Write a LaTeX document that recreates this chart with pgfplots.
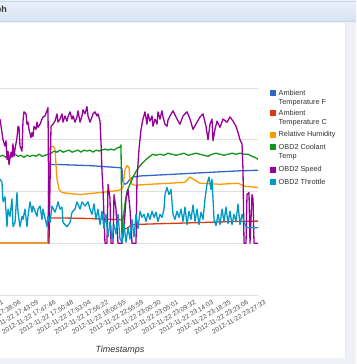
\documentclass[border=0pt]{standalone}
\usepackage{pgfplots}
\pgfplotsset{compat=1.18}
\usepackage{fontspec}
\setmainfont{Liberation Sans}
\definecolor{gblue}{HTML}{3366CC}
\definecolor{gred}{HTML}{DC3912}
\definecolor{gorange}{HTML}{FF9900}
\definecolor{ggreen}{HTML}{109618}
\definecolor{gpurple}{HTML}{990099}
\definecolor{gcyan}{HTML}{0099C6}
\definecolor{outerbg}{HTML}{EEF1F6}
\definecolor{hdtop}{HTML}{EAF1FA}
\definecolor{hdbot}{HTML}{D7E4F3}
\definecolor{hdline}{HTML}{C6D5E8}
\begin{document}
\begin{tikzpicture}
\path[use as bounding box] (0,0) rectangle (356pt,364pt);
\clip (0,0) rectangle (356pt,364pt);
\fill[outerbg] (0,0) rectangle (356pt,364pt);
\fill[white] (0,6pt) rectangle (345pt,341pt);
\draw[black!8] (345pt,6pt) -- (345pt,341pt);
\shade[top color=hdtop, bottom color=hdbot] (0,343pt) rectangle (356pt,363pt);
\draw[hdline] (0,363pt) -- (356pt,363pt);
\draw[hdline] (0,343pt) -- (356pt,343pt);
\node[anchor=east, font=\bfseries\fontsize{9}{10}\selectfont, text=black!80] at (10.5pt,354pt) {Graph};
\begin{axis}[
  at={(-20pt,69pt)}, anchor=south west,
  scale only axis, width=278pt, height=207pt,
  xmin=-20, xmax=258, ymin=-50, ymax=150,
  axis line style={draw=none},
  ytick={-50,50,100,150}, yticklabels={},
  ymajorgrids,
  major grid style={color=black!12, line width=0.8pt},
  extra y ticks={0}, extra y tick labels={},
  extra y tick style={grid style={color=black!42, line width=1.3pt}},
  major tick length=0pt,
  xtick={-4.5,13,30.5,48,65.5,83,100.5,118,135.5,153,170.5,188,205.5,223,240.5,258},
  xticklabels={2012-11-22 17:33:21,2012-11-22 17:38:06,2012-11-22 17:43:09,2012-11-22 17:47:46,2012-11-22 17:50:48,2012-11-22 17:53:04,2012-11-22 17:56:22,2012-11-22 18:00:55,2012-11-22 22:55:59,2012-11-22 23:00:30,2012-11-22 23:05:01,2012-11-22 23:09:32,2012-11-22 23:14:03,2012-11-22 23:18:35,2012-11-22 23:23:06,2012-11-22 23:27:33},
  xticklabel style={rotate=30, anchor=north east, font=\fontsize{6.6}{7}\selectfont, text=black!70, xshift=3pt, yshift=-7pt, inner sep=0pt},
  every axis plot/.append style={line width=1.3pt, line join=round, mark=none},
]
% Ambient Temperature F
\addplot[gblue] coordinates {(0,0)(48,0)(49,76)(60,76)(75,75.5)(90,75)(105,74)(120,73)(122,72)(123,59)(125,57)(127,58)(130,62)(133,64)(140,65)(160,66)(180,67)(200,68)(220,69)(240,70)(258,70.5)};
% Ambient Temperature C
\addplot[gred] coordinates {(0,0)(48,0)(49,24.4)(60,24.4)(75,24.2)(90,23.9)(105,23.3)(120,22.8)(122,22.2)(123,15)(125,14)(127,14.4)(130,16.7)(133,17.8)(140,18.3)(160,18.9)(180,19.4)(200,20)(220,20.6)(240,21.1)(258,21.4)};
% Relative Humidity
\addplot[gorange] coordinates {(0,0)(48,0)(49,91)(51,93)(53,94)(55,91)(56,76)(57,62)(59,52)(62,49)(70,48)(80,47)(90,48)(100,49)(110,50)(118,51)(121,52)(123,54)(125,71)(127,75)(129,73)(130,62)(132,57)(135,56)(150,57)(170,58)(185,59)(190,64)(193,62)(200,58)(220,57)(238,58)(245,55)(258,54)};
% OBD2 Coolant Temp
\addplot[ggreen] coordinates {(0,84)(3,85)(6,83)(9,85)(12,84)(15,86)(18,84)(21,85)(24,83)(27,85)(30,84)(33,85)(36,84)(39,86)(42,84)(45,85)(48,86)(51,87)(54,89)(57,88)(60,90)(63,88)(66,89)(69,90)(72,88)(75,89)(78,90)(81,88)(84,90)(87,89)(90,90)(93,88)(96,90)(99,89)(102,90)(105,91)(108,90)(111,91)(114,90)(117,92)(120,93)(121,95)(122,0)(123,23)(125,38)(127,50)(130,57)(133,64)(137,71)(140,75)(143,78)(146,81)(150,84)(153,86)(156,85)(160,86)(164,85)(168,87)(172,86)(176,85)(180,86)(184,87)(188,85)(192,86)(196,87)(200,86)(204,85)(208,84)(212,86)(216,87)(220,86)(224,85)(228,86)(232,87)(236,86)(240,87)(244,86)(248,86)(252,84)(255,83)(258,81)};
% OBD2 Speed
\addplot[gpurple] coordinates {(0,120)(3,100)(5,94)(6,99)(7,81)(8,89)(9,76)(11,88)(12,83)(13,96)(14,84)(15,91)(17,102)(18,113)(19,112)(20,94)(22,89)(23,118)(24,127)(26,125)(27,115)(28,117)(29,110)(31,102)(32,107)(33,103)(34,113)(36,110)(37,117)(38,112)(40,115)(42,120)(43,122)(45,123)(47,128)(48,131)(49,0)(51,113)(53,115)(55,118)(57,125)(58,117)(60,120)(62,125)(63,117)(65,123)(67,118)(68,122)(70,127)(72,120)(73,123)(75,117)(77,122)(78,128)(80,117)(82,123)(83,129)(85,125)(87,132)(88,123)(90,117)(92,122)(93,125)(95,127)(97,123)(98,125)(100,118)(101,98)(102,69)(103,52)(105,0)(107,0)(108,57)(110,43)(111,0)(113,0)(114,47)(116,33)(118,0)(122,0)(124,14)(126,43)(128,52)(130,33)(132,0)(136,0)(137,62)(139,91)(141,110)(143,120)(145,127)(147,115)(148,125)(150,118)(152,123)(153,113)(155,120)(157,115)(158,127)(160,120)(162,128)(163,122)(165,115)(167,113)(168,119)(170,123)(173,128)(177,120)(180,115)(183,123)(187,127)(190,120)(193,110)(197,117)(200,122)(203,125)(206,113)(208,100)(210,115)(212,120)(213,99)(215,110)(217,118)(220,112)(223,120)(227,117)(230,122)(233,118)(236,113)(238,107)(240,100)(242,96)(243,71)(244,0)(246,0)(247,47)(249,49)(250,0)(252,47)(253,43)(254,0)(258,0)};
% OBD2 Throttle
\addplot[gcyan] coordinates {(0,62)(2,59)(3,40)(5,45)(7,16)(8,33)(10,26)(12,43)(13,16)(15,20)(17,49)(18,30)(20,16)(22,26)(23,23)(25,33)(27,16)(28,26)(30,40)(32,30)(33,36)(37,26)(38,33)(40,36)(42,23)(43,33)(47,16)(48,26)(50,20)(52,36)(55,30)(57,36)(58,40)(60,33)(62,35)(63,20)(67,16)(70,20)(72,30)(75,33)(77,40)(80,33)(82,40)(85,36)(88,40)(90,33)(92,28)(94,38)(96,23)(98,33)(100,18)(102,31)(104,14)(106,28)(108,6)(110,21)(112,4)(114,18)(116,9)(118,28)(120,4)(122,1)(124,18)(126,1)(128,15)(130,4)(132,23)(134,6)(136,28)(138,14)(140,31)(142,25)(144,28)(146,21)(148,29)(150,23)(152,31)(154,25)(156,30)(158,21)(160,28)(162,25)(164,33)(165,47)(167,54)(169,47)(171,52)(173,28)(175,23)(177,31)(179,25)(181,33)(183,21)(185,35)(187,18)(189,31)(191,23)(193,37)(195,21)(197,33)(199,18)(201,30)(203,23)(205,43)(207,57)(209,64)(211,52)(212,62)(213,43)(214,23)(216,17)(218,28)(220,18)(222,33)(224,21)(226,35)(228,19)(230,31)(232,18)(234,28)(236,21)(238,38)(240,18)(242,28)(244,21)(246,16)(248,15)(258,15)};
\end{axis}
\node[font=\fontsize{9}{10}\selectfont\itshape, text=black!80] at (120pt,14pt) {Timestamps};
% legend
\begin{scope}[every node/.style={anchor=west, font=\fontsize{7.3}{8}\selectfont, text=black!80, inner sep=0pt}]
\fill[gblue] (269.5pt,267.5pt) rectangle (275.5pt,273.5pt);
\node at (278.5pt,271pt) {Ambient};
\node at (278.5pt,261pt) {Temperature F};
\fill[gred] (269.5pt,247.5pt) rectangle (275.5pt,253.5pt);
\node at (278.5pt,251pt) {Ambient};
\node at (278.5pt,241pt) {Temperature C};
\fill[gorange] (269.5pt,225.5pt) rectangle (275.5pt,231.5pt);
\node at (278.5pt,229pt) {Relative Humidity};
\fill[ggreen] (269.5pt,213.5pt) rectangle (275.5pt,219.5pt);
\node at (278.5pt,217pt) {OBD2 Coolant};
\node at (278.5pt,207pt) {Temp};
\fill[gpurple] (269.5pt,190.5pt) rectangle (275.5pt,196.5pt);
\node at (278.5pt,194pt) {OBD2 Speed};
\fill[gcyan] (269.5pt,178.5pt) rectangle (275.5pt,184.5pt);
\node at (278.5pt,182pt) {OBD2 Throttle};
\end{scope}
\end{tikzpicture}
\end{document}
